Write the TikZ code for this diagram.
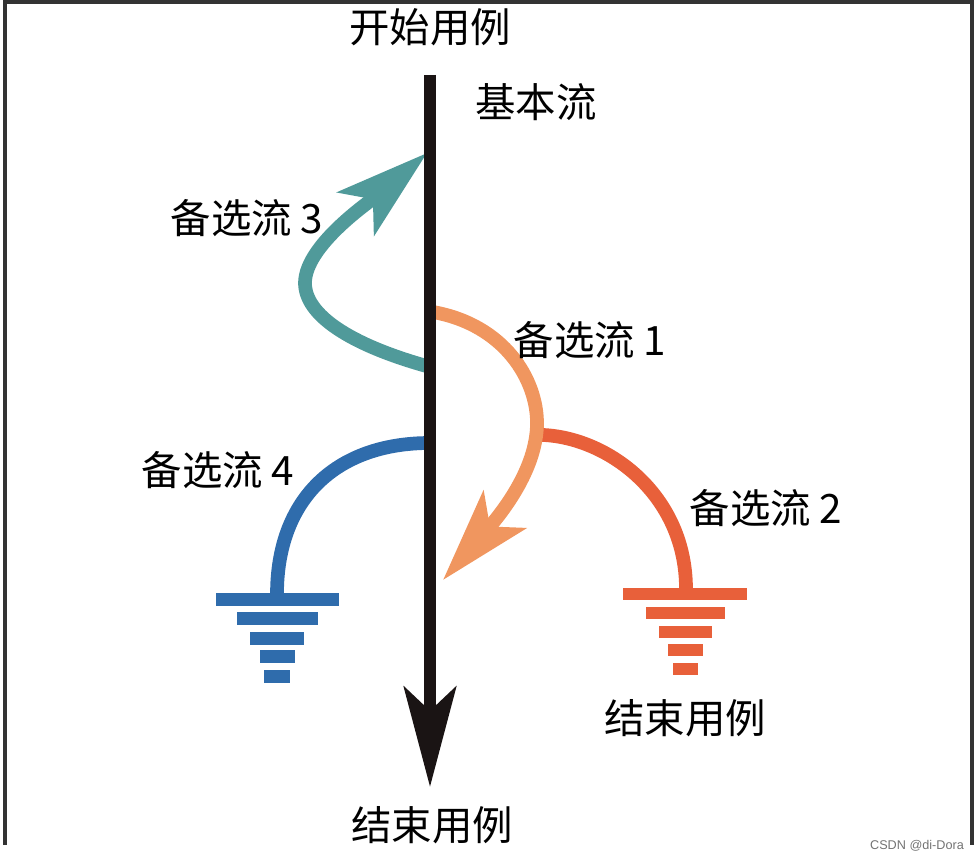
\documentclass[tikz,border=0pt]{standalone}
\usepackage{fontspec}
\usepackage{xcolor}
\usepackage{tikz}
\usetikzlibrary{arrows.meta, positioning}
\newfontfamily\cjk{Noto Sans CJK SC}
\newfontfamily\wmfont{Liberation Sans}
\definecolor{mainline}{RGB}{26,20,20}
\definecolor{tealflow}{RGB}{80,154,154}
\definecolor{orangeflow}{RGB}{240,150,95}
\definecolor{redflow}{RGB}{232,96,58}
\definecolor{blueflow}{RGB}{47,108,172}

\begin{document}
\begin{tikzpicture}[x=0.01cm, y=-0.01cm,
    label/.style={font=\cjk\fontsize{11.5}{14}\selectfont, inner sep=0pt},
    flow/.style={line width=3.9pt},
    bigtip/.style={-{Stealth[length=9.3mm, width=5.6mm, inset=2.2mm]}}]
    \useasboundingbox (0,0) rectangle (977,862);
    % frame
    \draw [line width=0.9pt, black!80] (5,845) -- (5,2) -- (972,2) -- (972,845);

    % points on the basic flow
    \coordinate (start) at (430,75);
    \coordinate (finish) at (430,787);
    \coordinate (out1) at (433,312);
    \coordinate (in3) at (430,367);
    \coordinate (out4) at (430,443);
    \coordinate (split2) at (533,435);
    \coordinate (tip1) at (443,580);
    \coordinate (tip3) at (427,153);
    \coordinate (end2) at (686,589);
    \coordinate (end4) at (277,594);

    % alternative flow 2 and its end
    \draw [flow, redflow] (split2) .. controls (600,432) and (686,490) .. (end2);
    \foreach \w/\y in {124/588,79/607,53/626,35/644,25/663}
        \fill [redflow] ({685-\w/2},\y) rectangle ++(\w,12);

    % alternative flow 4 and its end
    \draw [flow, blueflow] (out4) .. controls (335,443) and (277,500) .. (end4);
    \foreach \w/\y in {123/593,81/612,54/632,35/650,26/670}
        \fill [blueflow] ({277-\w/2},\y) rectangle ++(\w,13);

    % alternative flow 1
    \draw [flow, orangeflow, bigtip] (out1) .. controls (505,325) and (537,380) .. (537,423)
        .. controls (537,470) and (500,515) .. (tip1);

    % alternative flow 3
    \draw [flow, tealflow, bigtip] (in3) .. controls (350,345) and (305,315) .. (305,283)
        .. controls (305,245) and (372,200) .. (tip3);

    % basic flow
    \draw [line width=3.6pt, mainline, -{Stealth[length=10mm, width=5.2mm, inset=2.4mm]}] (start) -- (finish);

    % texts
    \node (begin) [label] at (430,27) {开始用例};
    \node (basic) [label] at (536,102) {基本流};
    \node (alt3) [label] at (247,218) {备选流 3};
    \node (alt1) [label] at (590,340) {备选流 1};
    \node (alt4) [label] at (218,470) {备选流 4};
    \node (alt2) [label] at (766,508) {备选流 2};
    \node (stop2) [label] at (685,718) {结束用例};
    \node (stop) [label] at (432,825) {结束用例};
    \node (mark) [font=\wmfont\fontsize{3.6}{4}\selectfont, text=black!55, inner sep=0pt] at (917,846) {CSDN @di-Dora};
\end{tikzpicture}
\end{document}
